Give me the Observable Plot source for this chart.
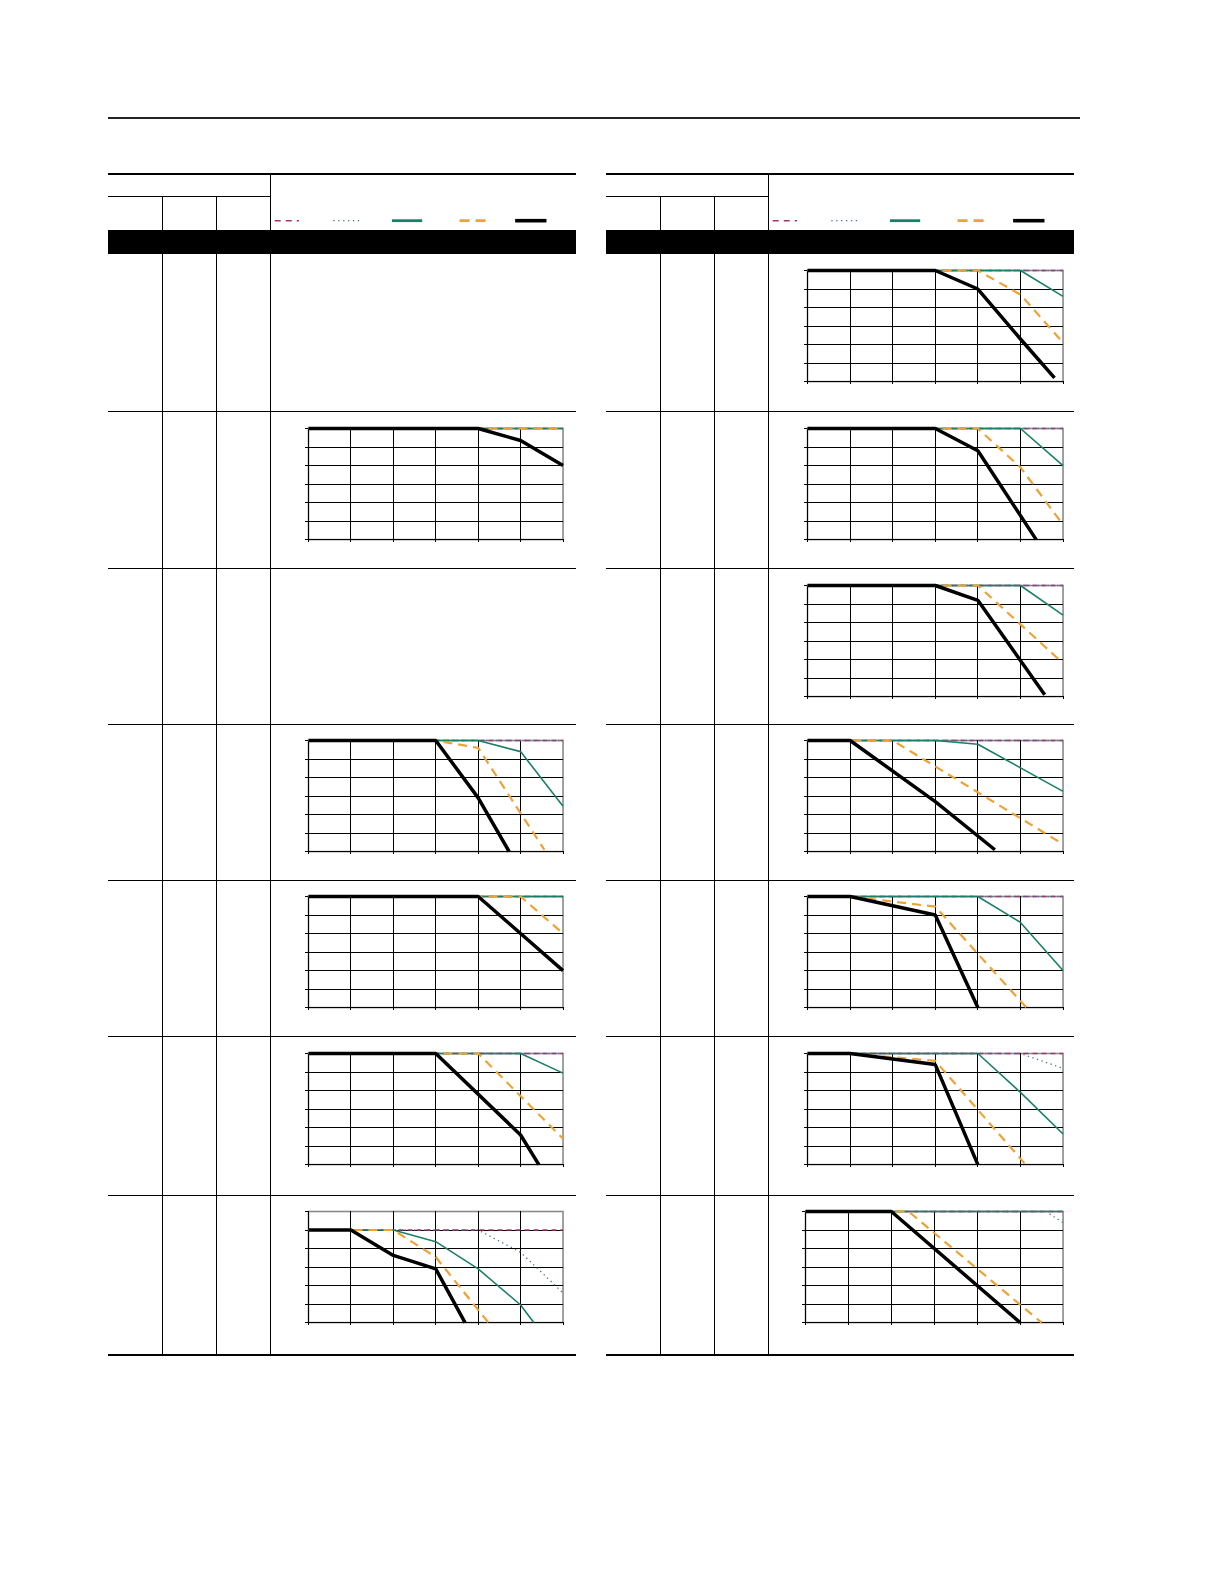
<!DOCTYPE html>
<html><head><meta charset="utf-8">
<script src="https://cdn.jsdelivr.net/npm/d3@7"></script>
<script src="https://cdn.jsdelivr.net/npm/@observablehq/plot@0.6"></script>
<style>
html,body{margin:0;padding:0;background:#fff;}
#page{position:relative;width:1224px;height:1584px;overflow:hidden;font-family:"Liberation Sans",Arial,sans-serif;}
.ln{position:absolute;}
.chart{position:absolute;}
.chart svg{overflow:visible;background:none;}
</style></head><body><div id="page"></div>
<script>
// ---------- DATA ----------
const chartIds = ["R1","L2","R2","R3","L4","R4","L5","R5","L6","R6","L7","R7"];
const xTicks = [0,10,20,30,40,50,60];
const yTicksStd = [40,50,60,70,80,90,100];
const yTicksTall = [50,60,70,80,90,100,110];
const chartYTicks = [yTicksStd,yTicksStd,yTicksStd,yTicksStd,yTicksStd,yTicksStd,yTicksStd,yTicksStd,yTicksStd,yTicksStd,yTicksTall,yTicksStd];

const magentaCurves = [
  [[0,100],[60,100]],[[0,100],[60,100]],[[0,100],[60,100]],[[0,100],[60,100]],
  [[0,100],[60,100]],[[0,100],[60,100]],[[0,100],[60,100]],[[0,100],[60,100]],
  [[0,100],[60,100]],[[0,100],[60,100]],[[0,100],[60,100]],[[0,100],[60,100]]
];
const dottedCurves = [
  [[0,100],[60,100]],[[0,100],[60,100]],[[0,100],[60,100]],[[0,100],[60,100]],
  [[0,100],[60,100]],[[0,100],[60,100]],[[0,100],[60,100]],[[0,100],[60,100]],
  [[0,100],[60,100]],
  [[0,100],[50,100],[60,92]],
  [[0,100],[40,100],[50,88],[60,66]],
  [[0,100],[56,100],[60,94]]
];
const tealCurves = [
  [[0,100],[50,100],[60,86]],
  [[0,100],[60,100]],
  [[0,100],[50,100],[60,80]],
  [[0,100],[50,100],[60,84]],
  [[0,100],[40,100],[50,94],[60,64.5]],
  [[0,100],[30,100],[40,98],[60,72.5]],
  [[0,100],[60,100]],
  [[0,100],[40,100],[50,86],[60,60]],
  [[0,100],[50,100],[60,89.4]],
  [[0,100],[40,100],[50,79],[60,56.5]],
  [[0,100],[20,100],[30,93.7],[40,79],[50,59.5],[53.1,50]],
  [[0,100],[60,100]]
];
const orangeCurves = [
  [[0,100],[40,100],[50,87],[60,61]],
  [[0,100],[60,100]],
  [[0,100],[40,100],[50,79],[60,48]],
  [[0,100],[40,100],[50,79],[60,58]],
  [[0,100],[30,100],[40,96],[55.6,41]],
  [[0,100],[20,100],[60,44]],
  [[0,100],[50,100],[60,80]],
  [[0,100],[10,100],[30,94.5],[51.4,40]],
  [[0,100],[40,100],[60,54]],
  [[0,100],[10,100],[30,96],[51.2,40]],
  [[0,100],[20,100],[30,85.4],[42.4,50]],
  [[0,100],[24,100],[55,40]]
];
const blackCurves = [
  [[0,100],[30,100],[40,90],[50,63],[58,42]],
  [[0,100],[40,100],[50,93.5],[60,80]],
  [[0,100],[30,100],[40,88],[53.7,40]],
  [[0,100],[30,100],[40,92],[55.7,41]],
  [[0,100],[30,100],[40,69],[47.3,40]],
  [[0,100],[10,100],[30,67],[44,41]],
  [[0,100],[40,100],[60,60]],
  [[0,100],[10,100],[30,90],[40,40]],
  [[0,100],[30,100],[50,56],[54.3,40]],
  [[0,100],[10,100],[30,94],[40,40]],
  [[0,100],[10,100],[20,86.3],[30,79],[36.9,50]],
  [[0,100],[20,100],[50,40]]
];

// ---------- STYLES / LAYOUT ----------
const S = 1.0101; // page scale
const sc = v => v*S;
const series = [
  {curves: magentaCurves, stroke:"#a3356b", width:1.3, dash:"5,4", lw:1.6, ldash:"6,5"},
  {curves: dottedCurves,  stroke:"#4a6e9a", width:1.3, dash:"1.3,3.5", lw:1.2, ldash:"1.3,3.6"},
  {curves: tealCurves,    stroke:"#1b7f68", width:1.6, dash:null, lw:2.8, ldash:null},
  {curves: orangeCurves,  stroke:"#eea236", width:2.2, dash:"9,6", lw:2.8, ldash:"10,6"},
  {curves: blackCurves,   stroke:"#000000", width:3.5, dash:null, lw:3.6, ldash:null}
];
const page = document.getElementById("page");
function box(x,y,w,h,c){const d=document.createElement("div");d.className="ln";
  Object.assign(d.style,{left:sc(x)+"px",top:sc(y)+"px",width:sc(w)+"px",height:Math.max(1,sc(h))+"px",background:c||"#000"});page.appendChild(d);}
box(107,116,962,1.6,"#222");
[0,493].forEach(ox=>{
  box(107+ox,171,463,2);
  box(107+ox,194,160,1);
  box(107+ox,228,463,23);
  [407,562,717,871,1026,1183].forEach(y=>box(107+ox,y,463,1));
  box(107+ox,1340,463,2);
  box(160+ox,194,1,1147);
  box(214+ox,194,1,1147);
  box(267+ox,172,1,1169);
});
// legend
const legNS="http://www.w3.org/2000/svg";
const leg=document.createElementNS(legNS,"svg");
leg.setAttribute("width",1224);leg.setAttribute("height",40);
Object.assign(leg.style,{position:"absolute",left:"0px",top:sc(200)+"px"});
const legX=[[272,296],[330,358],[388,418],[455,483],[510,541]];
[0,493].forEach(ox=>{
  series.forEach((s,i)=>{
    const l=document.createElementNS(legNS,"line");
    l.setAttribute("x1",sc(legX[i][0]+ox));l.setAttribute("x2",sc(legX[i][1]+ox));
    l.setAttribute("y1",sc(18.5));l.setAttribute("y2",sc(18.5));
    l.setAttribute("stroke",s.stroke);l.setAttribute("stroke-width",s.lw);
    if(s.ldash)l.setAttribute("stroke-dasharray",s.ldash);
    leg.appendChild(l);
  });
});
page.appendChild(leg);

// charts
const rowTop={1:267,2:424,3:579,4:733,5:887,6:1042,7:1199};
const mL=6,mR=3,mT=3,mB=6,H=110;
chartIds.forEach((id,k)=>{
  const side=id[0], row=+id.slice(1);
  const px = side==="L"?305:(row===7?797:799);
  const W = side==="L"?252:(row===7?255:253);
  const yt=chartYTicks[k];
  const marks=[
    Plot.frame({stroke:"#8a8a8a",strokeWidth:1.6}),
    Plot.gridX(xTicks.slice(0,-1),{stroke:"#000",strokeOpacity:1,strokeWidth:1,shapeRendering:"crispEdges"}),
    Plot.gridY(yt.slice(0,-1),{stroke:"#000",strokeOpacity:1,strokeWidth:1,shapeRendering:"crispEdges"}),
    Plot.axisX(xTicks,{tickSize:3,tickFormat:()=>"",label:null,stroke:"#000",shapeRendering:"crispEdges"}),
    Plot.axisY(yt,{tickSize:3,tickFormat:()=>"",label:null,stroke:"#000",shapeRendering:"crispEdges"})
  ];
  series.forEach(s=>{
    marks.push(Plot.line(s.curves[k],{x:d=>d[0],y:d=>d[1],stroke:s.stroke,strokeWidth:s.width,
      strokeDasharray:s.dash||undefined,strokeLinecap:"butt",strokeLinejoin:"miter"}));
  });
  const svg=Plot.plot({
    width:sc(W)+mL+mR,height:sc(H)+mT+mB,marginLeft:mL,marginRight:mR,marginTop:mT,marginBottom:mB,
    x:{domain:[0,60]},y:{domain:[yt[0],yt[yt.length-1]]},
    style:{background:"transparent",overflow:"visible"},
    marks
  });
  const d=document.createElement("div");d.className="chart";
  d.style.left=(sc(px)-mL)+"px";d.style.top=(sc(rowTop[row])-mT)+"px";
  d.appendChild(svg);page.appendChild(d);
});
</script></body></html>
